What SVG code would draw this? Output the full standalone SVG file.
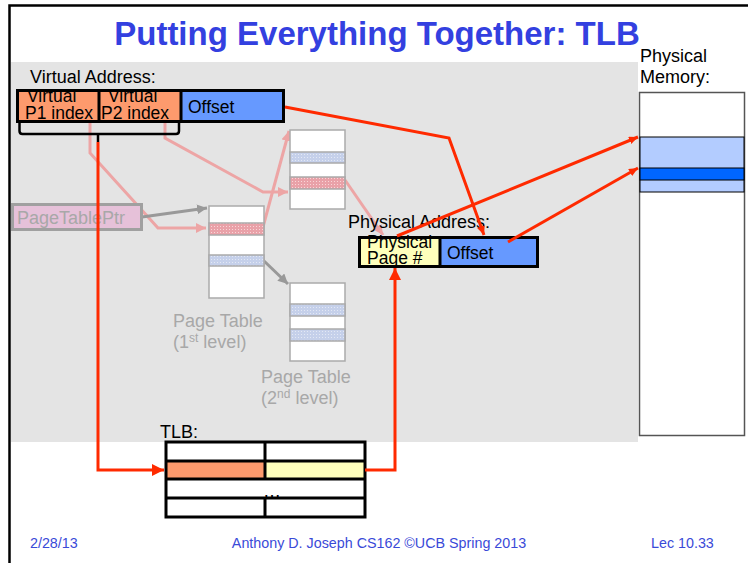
<svg xmlns="http://www.w3.org/2000/svg" width="748" height="563" viewBox="0 0 748 563">
  <style>
    text { font-family: "Liberation Sans", Arial, sans-serif; }
    .title { font-size: 33px; font-weight: bold; fill: #3340e0; }
    .foot { font-size: 14.3px; fill: #3a4ad8; }
    .lbl { font-size: 18px; fill: #000; }
    .cell { font-size: 17.5px; fill: #000; }
    .faint { font-size: 18px; fill: #a8a8a8; }
    .thick { fill: none; stroke: #000; stroke-width: 3; }
    .pt { fill: #fff; stroke: #aaa; stroke-width: 1.5; }
    .red { fill: none; stroke: #ff2a00; stroke-width: 3; stroke-linejoin: miter; }
    .pink { fill: none; stroke: #eda5a5; stroke-width: 3; }
    .grey { fill: none; stroke: #999; stroke-width: 3; }
  </style>
  <defs>
    <pattern id="dotRed" width="3" height="3" patternUnits="userSpaceOnUse">
      <rect width="3" height="3" fill="#e9a1a8"/>
      <rect x="1" y="1" width="1" height="1" fill="#f8d6d8"/>
    </pattern>
    <pattern id="dotBlue" width="3" height="3" patternUnits="userSpaceOnUse">
      <rect width="3" height="3" fill="#c5d0ea"/>
      <rect x="1" y="1" width="1" height="1" fill="#e3e8f4"/>
    </pattern>
    <marker id="arRed" markerUnits="userSpaceOnUse" markerWidth="13" markerHeight="13" refX="12" refY="6" orient="auto">
      <path d="M0,0 L12,6 L0,12 z" fill="#ff2a00"/>
    </marker>
    <marker id="arRedS" markerUnits="userSpaceOnUse" markerWidth="10" markerHeight="9" refX="9" refY="4" orient="auto">
      <path d="M0,0 L9,4 L0,8 z" fill="#ff2a00"/>
    </marker>
    <marker id="arPink" markerUnits="userSpaceOnUse" markerWidth="11" markerHeight="11" refX="10" refY="5" orient="auto">
      <path d="M0,0 L10,5 L0,10 z" fill="#eda5a5"/>
    </marker>
    <marker id="arGrey" markerUnits="userSpaceOnUse" markerWidth="11" markerHeight="11" refX="10" refY="5" orient="auto">
      <path d="M0,0 L10,5 L0,10 z" fill="#999"/>
    </marker>
  </defs>

  <!-- slide background and frame -->
  <rect width="748" height="563" fill="#fff"/>
  <rect x="11" y="62" width="627" height="380" fill="#e4e4e4"/>
  <path d="M9.5,563 L9.5,5.5 L748,5.5" fill="none" stroke="#000" stroke-width="2.5"/>

  <text class="title" x="377" y="45" text-anchor="middle">Putting Everything Together: TLB</text>

  <!-- faded page-walk links (drawn beneath the nodes) -->
  <g id="walk-links">
    <polyline class="pink" points="90,122 90,153 158,228 206,228" marker-end="url(#arPink)"/>
    <polyline class="pink" points="165,122 165,138 263,192 288,192" marker-end="url(#arPink)"/>
    <polyline class="pink" points="263,227 289,131" marker-end="url(#arPink)"/>
    <polyline class="pink" points="345,180 383,235" marker-end="url(#arPink)"/>
    <polyline class="grey" points="142,217 207,208" marker-end="url(#arGrey)"/>
    <polyline class="grey" points="263,260 288,284" marker-end="url(#arGrey)"/>
  </g>

  <!-- page table base register -->
  <g id="page-table-ptr">
    <rect x="12.5" y="204.5" width="129" height="25" fill="#e6c1d9" stroke="#a0a0a0" stroke-width="3"/>
    <text class="faint" x="17" y="224">PageTablePtr</text>
  </g>

  <!-- first-level page table -->
  <g id="pt-level1">
    <rect class="pt" x="209" y="206" width="55" height="92"/>
    <rect x="209" y="223" width="55" height="12" fill="url(#dotRed)" stroke="#aaa" stroke-width="1.5"/>
    <rect x="209" y="255" width="55" height="11" fill="url(#dotBlue)" stroke="#aaa" stroke-width="1.5"/>
    <text class="faint" x="173" y="327">Page Table</text>
    <text class="faint" x="173" y="348">(1<tspan font-size="12" dy="-6">st</tspan><tspan dy="6"> level)</tspan></text>
  </g>

  <!-- second-level page tables -->
  <g id="pt-level2-a">
    <rect class="pt" x="290" y="130" width="55" height="79"/>
    <rect x="290" y="152" width="55" height="11" fill="url(#dotBlue)" stroke="#aaa" stroke-width="1.5"/>
    <rect x="290" y="177" width="55" height="12" fill="url(#dotRed)" stroke="#aaa" stroke-width="1.5"/>
  </g>
  <g id="pt-level2-b">
    <rect class="pt" x="290" y="283" width="55" height="78"/>
    <rect x="290" y="304" width="55" height="12" fill="url(#dotBlue)" stroke="#aaa" stroke-width="1.5"/>
    <rect x="290" y="329" width="55" height="12" fill="url(#dotBlue)" stroke="#aaa" stroke-width="1.5"/>
    <text class="faint" x="261" y="383">Page Table</text>
    <text class="faint" x="261" y="404">(2<tspan font-size="12" dy="-6">nd</tspan><tspan dy="6"> level)</tspan></text>
  </g>

  <!-- virtual address -->
  <g id="virtual-address">
    <text class="lbl" x="30" y="83">Virtual Address:</text>
    <rect x="17" y="90" width="82" height="32" fill="#fd9a6d"/>
    <rect x="99" y="90" width="82" height="32" fill="#fd9a6d"/>
    <rect x="181" y="90" width="103" height="32" fill="#6699ff"/>
    <text class="cell" x="27" y="102">Virtual</text>
    <text class="cell" x="25" y="119">P1 index</text>
    <text class="cell" x="108" y="102">Virtual</text>
    <text class="cell" x="101" y="119">P2 index</text>
    <text class="cell" x="188" y="113">Offset</text>
    <rect class="thick" x="17.5" y="90.5" width="266" height="31"/>
    <path class="thick" d="M99,90 V122 M181,90 V122"/>
    <path d="M19.5,123 V131 Q19.5,134 22.5,134 H176 Q179,134 179,131 V123 M98,134 V142" fill="none" stroke="#000" stroke-width="2.5"/>
  </g>

  <!-- physical address -->
  <g id="physical-address">
    <text class="lbl" x="348" y="228" font-size="17.5">Physical Address:</text>
    <rect x="359" y="237" width="81" height="30" fill="#ffffbb"/>
    <rect x="440" y="237" width="98" height="30" fill="#6699ff"/>
    <text class="cell" x="367" y="248">Physical</text>
    <text class="cell" x="367" y="264">Page #</text>
    <text class="cell" x="447" y="259">Offset</text>
    <rect class="thick" x="359.5" y="237.5" width="178" height="29"/>
    <path class="thick" d="M440,237 V267"/>
  </g>

  <!-- physical memory -->
  <g id="physical-memory">
    <text class="lbl" x="640" y="62">Physical</text>
    <text class="lbl" x="640" y="83">Memory:</text>
    <rect x="639.5" y="92.5" width="105" height="343" fill="#fff" stroke="#555" stroke-width="1.5"/>
    <rect x="640" y="137" width="104" height="55" fill="#b3ccff" stroke="#000" stroke-width="1"/>
    <rect x="640" y="168" width="104" height="12" fill="#0066ff" stroke="#000" stroke-width="1"/>
  </g>

  <!-- translation lookaside buffer -->
  <g id="tlb">
    <text class="lbl" x="160" y="438">TLB:</text>
    <rect x="166" y="461" width="99" height="18" fill="#fd9a6d"/>
    <rect x="265" y="461" width="100" height="18" fill="#ffffbb"/>
    <rect class="thick" x="166" y="442" width="199" height="75" fill="none"/>
    <path class="thick" d="M166,461 H365 M166,479 H365 M166,498 H365 M265,442 V479 M265,498 V517"/>
    <text class="lbl" x="272" y="497" text-anchor="middle" font-size="20">…</text>
  </g>

  <!-- translation path -->
  <g id="links">
    <polyline class="red" points="98,142 98,470 164,470" marker-end="url(#arRed)"/>
    <polyline class="red" points="365,470 395,470 395,268" marker-end="url(#arRed)"/>
    <polyline class="red" points="285,107 449,138 484,235" marker-end="url(#arRedS)"/>
    <polyline class="red" points="397,236 638,137" marker-end="url(#arRedS)"/>
    <polyline class="red" points="508,242 638,168" marker-end="url(#arRedS)"/>
  </g>

  <!-- footer -->
  <text class="foot" x="30" y="548">2/28/13</text>
  <text class="foot" x="379" y="548" text-anchor="middle">Anthony D. Joseph CS162 ©UCB Spring 2013</text>
  <text class="foot" x="651" y="548">Lec 10.33</text>
</svg>
